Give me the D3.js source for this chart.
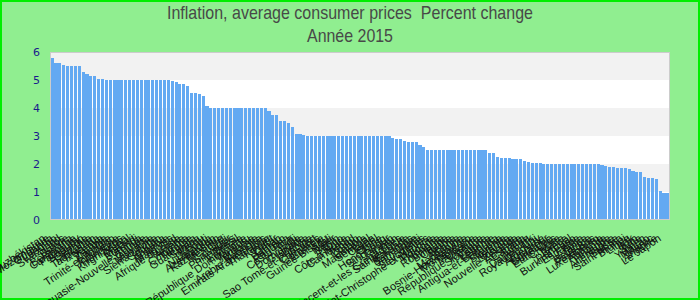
<!DOCTYPE html>
<html>
<head>
<meta charset="utf-8">
<script src="https://cdn.jsdelivr.net/npm/d3@7"></script>
<style>
  body { margin: 0; }
  svg { display: block; }
</style>
</head>
<body>
<svg id="chart" width="700" height="300"></svg>
<script>
const title = 'Inflation, average consumer prices  Percent change'
const subtitle = 'Année 2015'

const countries = [
  'Ouzbékistan', 'Mozambique', 'Ouganda', 'Lesotho', 'Swaziland', 'Laos', 'Bolivie', 'Botswana',
  'Cambodge', 'Paraguay', 'Bhoutan', 'Géorgie', 'Tanzanie', 'Tadjikistan', 'Rwanda', 'Kenya',
  'Zambie', 'Namibie', 'Trinité-et-Tobago', 'Indonésie', 'Honduras', 'Kirghizistan', 'Népal', 'Malawi',
  'Burundi', 'Tonga', 'Papouasie-Nouvelle-Guinée', 'Guyana', 'Mongolie', 'Sierra Leone', 'Soudan', 'Liberia',
  'Arménie', 'Maldives', 'Afrique du Sud', 'Tunisie', 'Algérie', 'Colombie', 'Turquie', 'Guatemala',
  'Samoa', 'Pérou', 'Djibouti', 'Nicaragua', 'Azerbaïdjan', 'Kazakhstan', 'Mexique', 'Chili',
  'Salvador', 'Philippines', 'Brésil', 'Érythrée', 'République Dominicaine', 'Vanuatu', 'Jordanie', 'Malaisie',
  'Arabie Saoudite', 'Emirats Arabes Unis', 'Thaïlande', 'Koweït', 'Qatar', 'Oman', 'Bahreïn', 'Panama',
  'Costa Rica', 'Fidji', 'Dominique', 'Grenade', 'Belize', 'Sao Tomé-et-Principe', 'Cap-Vert', 'Comores',
  'Gambie', 'Guinée-Bissau', 'Mali', 'Niger', 'Bénin', 'Togo', "Côte d'Ivoire", 'Cameroun',
  'Tchad', 'Congo', 'Gabon', 'Mauritanie', 'Sénégal', 'Corée', 'Israël', 'Chine',
  'Hong Kong', 'Singapour', 'Taïwan', 'Liban', 'Saint-Vincent-et-les Grenadines', 'Sainte-Lucie', 'Barbade', 'Bahamas',
  'Jamaïque', 'Haïti', 'Seychelles', 'Saint-Christophe-et-Niévès', 'Maurice', 'Pologne', 'Hongrie', 'Roumanie',
  'Bulgarie', 'Croatie', 'Serbie', 'Albanie', 'Macédoine', 'Bosnie-Herzégovine', 'Monténégro', 'Moldavie',
  'Ukraine', 'République Tchèque', 'Slovaquie', 'Estonie', 'Lettonie', 'Antigua-et-Barbuda', 'Lituanie', 'Slovénie',
  'Islande', 'Norvège', 'Nouvelle-Zélande', 'Australie', 'Canada', 'Suède', 'Danemark', 'Royaume-Uni',
  'Uruguay', 'Argentine', 'Équateur', 'Suriname', 'Etats-Unis', 'Chypre', 'Malte', 'Grèce',
  'Portugal', 'Burkina Faso', 'Espagne', 'Italie', 'France', 'Belgique', 'Pays-Bas', 'Luxembourg',
  'Autriche', 'Irlande', 'Finlande', 'Allemagne', 'Suisse', 'Saint-Marin', 'Brunei', 'Libye',
  'Irak', 'Iran', 'Syrie', 'Yémen', 'Macao', 'Maroc', 'Andorre', 'Le Japon'
]

const values = [
  5.8, 5.6, 5.6, 5.55, 5.5, 5.5, 5.5, 5.5,
  5.3, 5.2, 5.15, 5.15, 5.05, 5.05, 5.0, 5.0,
  5.0, 5.0, 5.0, 5.0, 5.0, 5.0, 5.0, 5.0,
  5.0, 5.0, 5.0, 5.0, 5.0, 5.0, 5.0, 4.97,
  4.93, 4.86, 4.86, 4.79, 4.55, 4.55, 4.5, 4.43,
  4.07, 4.0, 4.0, 4.0, 4.0, 4.0, 4.0, 4.0,
  4.0, 4.0, 4.0, 4.0, 4.0, 4.0, 4.0, 4.0,
  3.9, 3.75, 3.75, 3.54, 3.54, 3.46, 3.32, 3.07,
  3.07, 3.04, 3.0, 3.0, 3.0, 3.0, 3.0, 3.0,
  3.0, 3.0, 3.0, 3.0, 3.0, 3.0, 3.0, 3.0,
  3.0, 3.0, 3.0, 3.0, 3.0, 3.0, 3.0, 3.0,
  2.93, 2.9, 2.9, 2.83, 2.79, 2.79, 2.79, 2.69,
  2.62, 2.5, 2.5, 2.5, 2.5, 2.5, 2.5, 2.5,
  2.5, 2.5, 2.5, 2.5, 2.5, 2.5, 2.5, 2.5,
  2.5, 2.41, 2.41, 2.24, 2.21, 2.21, 2.21, 2.17,
  2.17, 2.17, 2.1, 2.07, 2.03, 2.03, 2.03, 2.0,
  2.0, 2.0, 2.0, 2.0, 2.0, 2.0, 2.0, 2.0,
  2.0, 2.0, 2.0, 2.0, 2.0, 2.0, 1.96, 1.93,
  1.89, 1.89, 1.85, 1.85, 1.85, 1.82, 1.75, 1.71,
  1.71, 1.53, 1.49, 1.49, 1.46, 1.02, 0.98, 0.95
]

const yTicks = [0, 1, 2, 3, 4, 5, 6]

const data = countries.map((name, i) => ({ name: name, value: values[i] }))

const width = 700
const height = 300
const margin = { top: 52, right: 30, bottom: 80, left: 50 }

const svg = d3.select('#chart')

// background and outer border
svg.append('rect')
  .attr('x', 1).attr('y', 1)
  .attr('width', width - 2).attr('height', height - 2)
  .attr('fill', '#90ee90')
  .attr('stroke', '#00ee00')
  .attr('stroke-width', 2)

const xScale = d3.scaleBand()
  .domain(countries)
  .range([margin.left, width - margin.right])
  .paddingInner(0.2)
  .paddingOuter(0.15)

const yScale = d3.scaleLinear()
  .domain([0, 6])
  .range([height - margin.bottom, margin.top])

// alternating horizontal bands
svg.append('g')
  .selectAll('rect')
  .data(yTicks.slice(0, -1))
  .join('rect')
  .attr('x', margin.left)
  .attr('width', width - margin.left - margin.right)
  .attr('y', d => yScale(d + 1))
  .attr('height', d => yScale(d) - yScale(d + 1))
  .attr('fill', d => d % 2 === 1 ? '#f2f2f2' : '#ffffff')

// bars
svg.append('g')
  .selectAll('rect')
  .data(data)
  .join('rect')
  .attr('class', 'bar')
  .attr('x', d => xScale(d.name))
  .attr('width', xScale.bandwidth())
  .attr('y', d => yScale(d.value))
  .attr('height', d => yScale(0) - yScale(d.value))
  .attr('fill', '#63a9f2')
  .attr('shape-rendering', 'crispEdges')

// plot frame
svg.append('rect')
  .attr('x', margin.left + 0.5)
  .attr('y', margin.top + 0.5)
  .attr('width', width - margin.left - margin.right - 1)
  .attr('height', height - margin.top - margin.bottom - 1)
  .attr('fill', 'none')
  .attr('stroke', '#cccccc')
  .attr('stroke-width', 1)

// y axis labels
const yAxis = svg.append('g')
  .attr('transform', `translate(${margin.left - 10},0)`)
  .call(d3.axisLeft(yScale).tickValues(yTicks).tickFormat(d3.format('d')).tickSize(0).tickPadding(0))
yAxis.select('.domain').remove()
yAxis.selectAll('.tick text')
  .attr('fill', '#1a1a8c')
  .attr('font-family', '"DejaVu Sans", sans-serif')
  .attr('font-size', '11px')
  .attr('dy', '0.35em')

// x axis labels, rotated
const xAxis = svg.append('g')
  .attr('transform', `translate(0,${height - margin.bottom})`)
  .call(d3.axisBottom(xScale).tickSize(0).tickPadding(0))
xAxis.select('.domain').remove()
xAxis.selectAll('.tick text')
  .attr('fill', '#111')
  .attr('font-family', '"Liberation Sans", Arial, sans-serif')
  .attr('font-size', '11px')
  .attr('text-anchor', 'end')
  .attr('x', 0)
  .attr('y', 0)
  .attr('dy', 0)
  .attr('transform', 'translate(-6,20) rotate(-34)')

// titles
svg.append('text')
  .attr('x', width / 2)
  .attr('y', 19)
  .attr('text-anchor', 'middle')
  .attr('font-family', '"Liberation Sans", Arial, sans-serif')
  .attr('font-size', '19px')
  .attr('fill', '#484848')
  .attr('textLength', 366)
  .attr('lengthAdjust', 'spacingAndGlyphs')
  .style('white-space', 'pre')
  .text(title)

svg.append('text')
  .attr('x', width / 2)
  .attr('y', 42)
  .attr('text-anchor', 'middle')
  .attr('font-family', '"Liberation Sans", Arial, sans-serif')
  .attr('font-size', '19px')
  .attr('fill', '#484848')
  .attr('textLength', 86)
  .attr('lengthAdjust', 'spacingAndGlyphs')
  .text(subtitle)
</script>
</body>
</html>
